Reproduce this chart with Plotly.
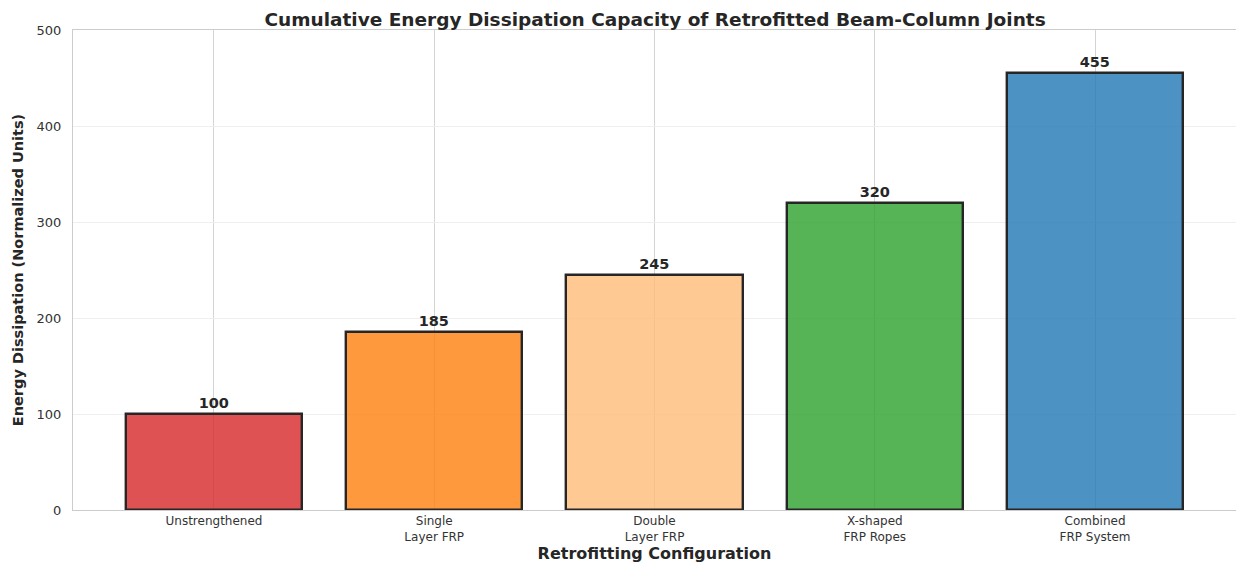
import plotly.graph_objects as go

categories = ["Unstrengthened", "Single<br>Layer FRP", "Double<br>Layer FRP",
              "X-shaped<br>FRP Ropes", "Combined<br>FRP System"]
energy = [100, 185, 245, 320, 455]
bar_colors = ["rgba(214,39,40,0.8)", "rgba(255,127,14,0.8)", "rgba(255,187,120,0.8)",
              "rgba(44,160,44,0.8)", "rgba(31,119,180,0.8)"]
y_ticks = [0, 100, 200, 300, 400, 500]

positions = list(range(len(categories)))

fig = go.Figure()
fig.add_trace(go.Bar(
    x=positions,
    y=energy,
    width=0.8,
    marker=dict(color=bar_colors, line=dict(color="#262626", width=2.4)),
    text=[str(v) for v in energy],
    textposition="outside",
    textfont=dict(family="DejaVu Sans", size=14.5, color="#262626", weight="bold"),
    cliponaxis=False,
    hoverinfo="x+y",
))

fig.update_layout(
    width=1236, height=565,
    margin=dict(l=73, r=0, t=30, b=55),
    plot_bgcolor="white", paper_bgcolor="white",
    showlegend=False,
    bargap=0,
    title=dict(
        text="Cumulative Energy Dissipation Capacity of Retrofitted Beam-Column Joints",
        x=0.53, xanchor="center", y=0.966, yanchor="middle",
        font=dict(family="DejaVu Sans", size=18.5, color="#262626", weight="bold"),
    ),
    font=dict(family="DejaVu Sans", color="#333333"),
)

fig.update_xaxes(
    range=[-0.64, 4.64],
    tickvals=positions, ticktext=categories,
    tickfont=dict(size=12, color="#333333"),
    showgrid=True, gridcolor="#d4d4d4", gridwidth=1,
    showline=True, linecolor="#cccccc", linewidth=1, mirror=True,
    ticks="", zeroline=False,
    title=dict(text="Retrofitting Configuration", standoff=2,
               font=dict(family="DejaVu Sans", size=16, color="#262626", weight="bold")),
)
fig.update_yaxes(
    range=[0, 500],
    tickvals=y_ticks,
    tickfont=dict(size=13, color="#333333"),
    ticklabelstandoff=8,
    showgrid=True, gridcolor="#efefef", gridwidth=1,
    showline=True, linecolor="#cccccc", linewidth=1, mirror=True,
    ticks="", zeroline=False,
    title=dict(text="Energy Dissipation (Normalized Units)", standoff=9,
               font=dict(family="DejaVu Sans", size=14.5, color="#262626", weight="bold")),
)

fig.write_html("out.html")
